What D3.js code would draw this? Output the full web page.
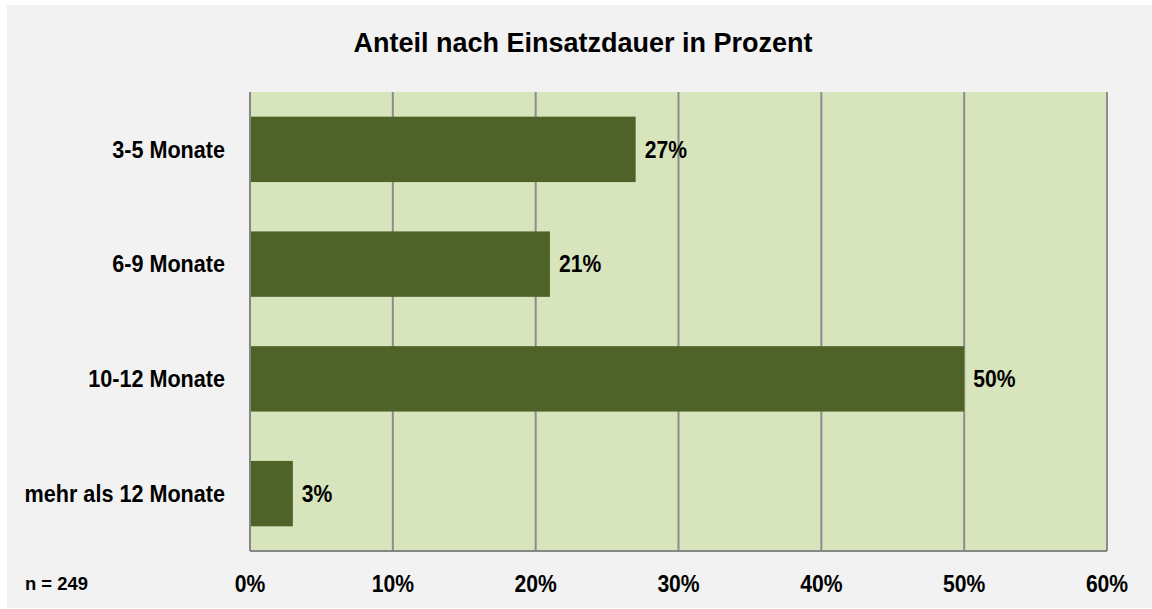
<!DOCTYPE html>
<html lang="de">
<head>
<meta charset="UTF-8">
<script src="https://d3js.org/d3.v7.min.js"></script>
<style>
  body { margin: 0; background: #ffffff; }
  svg text { font-family: "Liberation Sans", Arial, sans-serif; font-weight: bold; fill: #000; }
</style>
</head>
<body>
<div id="chart"></div>
<script>
// data
const categories = ["3-5 Monate", "6-9 Monate", "10-12 Monate", "mehr als 12 Monate"];
const values = [27, 21, 50, 3];
const xTicks = [0, 10, 20, 30, 40, 50, 60];
const title = "Anteil nach Einsatzdauer in Prozent";
const note = "n = 249";

const W = 1152, H = 609;
const m = { left: 250, right: 45, top: 92, bottom: 58 };
const narrow = 0.88; // condensed look

const svg = d3.select("#chart").append("svg")
  .attr("width", W).attr("height", H);

// outer panel
svg.append("rect").attr("x", 7).attr("y", 5).attr("width", W - 7).attr("height", 603).attr("fill", "#f2f2f2");

const x = d3.scaleLinear().domain([0, 60]).range([m.left, W - m.right]);
const y = d3.scaleBand().domain(categories).range([m.top, H - m.bottom]).paddingInner(0.43).paddingOuter(0.215);

// plot background
svg.append("rect")
  .attr("x", x(0)).attr("y", m.top)
  .attr("width", x(60) - x(0)).attr("height", H - m.bottom - m.top)
  .attr("fill", "#d8e4bc");

// gridlines
svg.append("g").selectAll("line").data(xTicks.slice(1)).enter().append("line")
  .attr("x1", d => x(d)).attr("x2", d => x(d))
  .attr("y1", m.top).attr("y2", H - m.bottom)
  .attr("stroke", "#8c8c8c").attr("stroke-width", 2);

// bars
svg.append("g").selectAll("rect").data(values).enter().append("rect")
  .attr("x", x(0))
  .attr("y", (d, i) => y(categories[i]))
  .attr("width", d => x(d) - x(0))
  .attr("height", y.bandwidth())
  .attr("fill", "#4f6228");

// axes lines
svg.append("line").attr("x1", x(0)).attr("x2", x(0)).attr("y1", m.top).attr("y2", H - m.bottom)
  .attr("stroke", "#868686").attr("stroke-width", 2);
svg.append("line").attr("x1", x(0)).attr("x2", x(60)).attr("y1", H - m.bottom).attr("y2", H - m.bottom)
  .attr("stroke", "#868686").attr("stroke-width", 2);

// value labels
svg.append("g").selectAll("text").data(values).enter().append("text")
  .attr("transform", (d, i) => `translate(${x(d) + 9},${y(categories[i]) + y.bandwidth() / 2}) scale(${narrow},1)`)
  .attr("dy", "0.34em")
  .attr("font-size", 24)
  .text(d => d + "%");

// category labels
svg.append("g").selectAll("text").data(categories).enter().append("text")
  .attr("transform", d => `translate(${x(0) - 25},${y(d) + y.bandwidth() / 2}) scale(0.9,1)`)
  .attr("dy", "0.34em")
  .attr("text-anchor", "end")
  .attr("font-size", 24)
  .text(d => d);

// x tick labels
svg.append("g").selectAll("text").data(xTicks).enter().append("text")
  .attr("transform", d => `translate(${x(d)},592) scale(${narrow},1)`)
  .attr("text-anchor", "middle")
  .attr("font-size", 24)
  .text(d => d + "%");

svg.append("text").attr("transform", `translate(25,590) scale(0.97,1)`)
  .attr("font-size", 19).text(note);

svg.append("text").attr("transform", `translate(${W / 2 + 7},52) scale(1,1)`)
  .attr("text-anchor", "middle")
  .attr("font-size", 27).text(title);
</script>
</body>
</html>
